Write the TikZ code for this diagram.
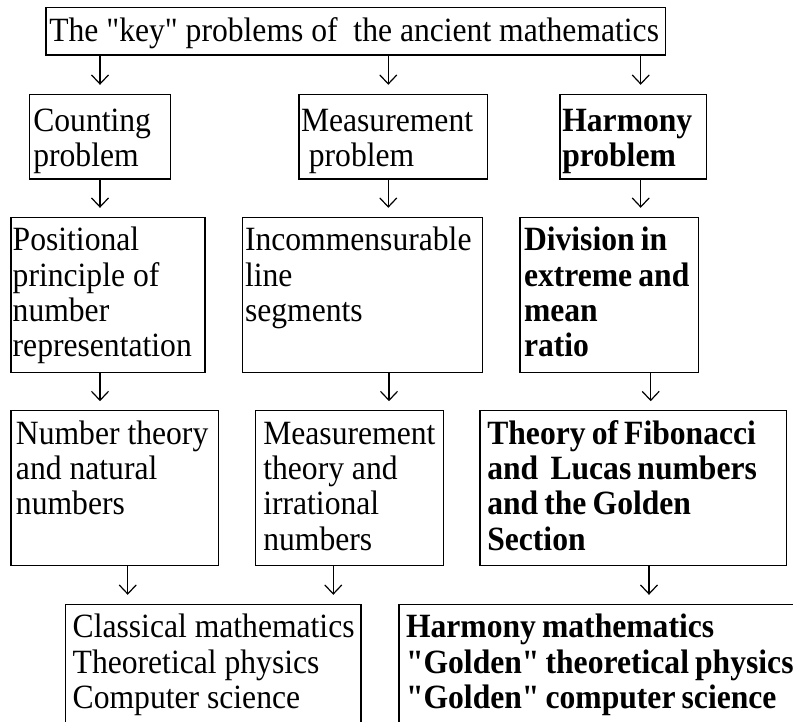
\documentclass[tikz,border=0pt]{standalone}
\usepackage{fontspec}
\setmainfont{Liberation Serif}[FakeStretch=0.93, Ligatures=TeXOff]
\usetikzlibrary{arrows.meta}
\newcommand\tightsp{\spaceskip 0.18em plus 0.1em\relax}
\tikzset{
  boxst/.style={draw, line width=1.3pt, inner sep=0pt, outer sep=0pt},
  txt/.style={anchor=base west, inner sep=0pt, outer sep=0pt, font=\fontsize{34}{35.3}\selectfont},
  btxt/.style={txt, font=\fontsize{34}{35.3}\selectfont\bfseries\tightsp},
  arr/.style={line width=1.2pt, -{Straight Barb[length=9pt,width=17pt]}, shorten >=9.5pt},
}
\newcommand\dq{\char34\relax}
\newcommand\mylines[1]{\begin{tabular}[t]{@{}l@{}}#1\end{tabular}}
\newcommand\boxat[5]{\node[boxst, minimum width=#4pt, minimum height=#5pt] (#1) at (#2,#3) {};}
\begin{document}
\begin{tikzpicture}[x=1pt,y=-1pt]
\useasboundingbox (0,0) rectangle (793,721);
\clip (0,0) rectangle (793,721);
% boxes
\boxat{top}{355.85}{31.15}{619.7}{47.7}
\boxat{cnt}{100}{136.65}{141.4}{84.7}
\boxat{meas}{393.15}{136.65}{188.3}{84.7}
\boxat{harm}{633.35}{136.65}{146.7}{84.7}
\boxat{pos}{108}{294.8}{194}{155}
\boxat{inc}{362.7}{294.8}{240}{155}
\boxat{div}{609.15}{294.8}{178.3}{155}
\boxat{nt}{114.65}{488.2}{207.3}{155}
\boxat{mt}{349.5}{488.2}{187.6}{155}
\boxat{fib}{633.35}{488.2}{306.7}{155}
\boxat{cls}{213.35}{682.15}{295.3}{155.7}
\boxat{hm}{614.5}{682.15}{431}{155.7}
% texts
\node[txt] (ttop) at (49.3,41.7) {The \dq key\dq{} problems of~~the ancient mathematics};
\node[txt] (tcnt) at (33.3,131.5) {\mylines{Counting\\problem}};
\node[txt] (tmeas) at (301,131.5) {\mylines{Measurement\\\ problem}};
\node[btxt] (tharm) at (562.3,131.5) {\mylines{Harmony\\problem}};
\node[txt] (tpos) at (12.7,250.7) {\mylines{Positional\\principle of\\number\\representation}};
\node[txt] (tinc) at (245,250.7) {\mylines{Incommensurable\\line\\segments}};
\node[btxt] (tdiv) at (524,250.7) {\mylines{Division in\\extreme and\\mean\\ratio}};
\node[txt] (tnt) at (16,444.3) {\mylines{Number theory\\and natural\\numbers}};
\node[txt] (tmt) at (263.3,444.3) {\mylines{Measurement\\theory and\\irrational\\numbers}};
\node[btxt] (tfib) at (487.3,444.3) {\mylines{Theory of Fibonacci\\and~~Lucas numbers\\and the Golden\\Section}};
\node[txt] (tcls) at (72.7,637.7) {\mylines{Classical mathematics\\Theoretical physics\\Computer science}};
\node[btxt] (thm) at (406,637.7) {\mylines{Harmony mathematics\\\dq Golden\dq{} theoretical physics\\\dq Golden\dq{} computer science}};
% arrow columns
\coordinate (xa) at (100,0);
\coordinate (xb) at (388.3,0);
\coordinate (xc) at (640.7,0);
\coordinate (xd) at (389,0);
\coordinate (xe) at (650.7,0);
\coordinate (xf) at (127.7,0);
\coordinate (xg) at (333.3,0);
\coordinate (xh) at (649,0);
% arrows
\draw[arr] (top.south -| xa) -- (cnt.north -| xa);
\draw[arr] (top.south -| xb) -- (meas.north -| xb);
\draw[arr] (top.south -| xc) -- (harm.north -| xc);
\draw[arr] (cnt.south -| xa) -- (pos.north -| xa);
\draw[arr] (meas.south -| xb) -- (inc.north -| xb);
\draw[arr] (harm.south -| xc) -- (div.north -| xc);
\draw[arr] (pos.south -| xa) -- (nt.north -| xa);
\draw[arr] (inc.south -| xd) -- (mt.north -| xd);
\draw[arr] (div.south -| xe) -- (fib.north -| xe);
\draw[arr] (nt.south -| xf) -- (cls.north -| xf);
\draw[arr] (mt.south -| xg) -- (cls.north -| xg);
\draw[arr] (fib.south -| xh) -- (hm.north -| xh);
\end{tikzpicture}
\end{document}
